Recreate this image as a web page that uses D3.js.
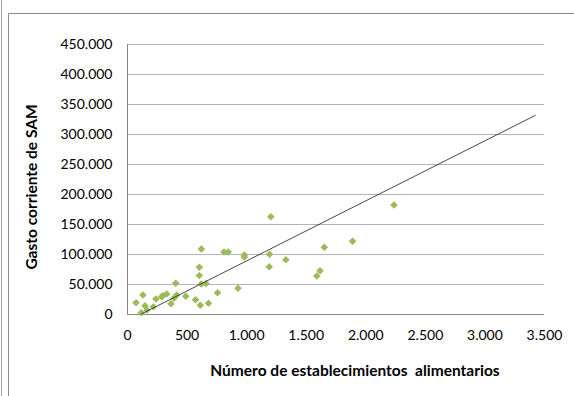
<!DOCTYPE html>
<html><head><meta charset="utf-8">
<script src="https://cdn.jsdelivr.net/npm/d3@7"></script>
<style>html,body{margin:0;padding:0;background:#fff;}svg{display:block;}</style>
</head><body>
<svg id="c" width="574" height="396"></svg>
<script>
const establecimientos = [76,134,151,120,168,221,243,291,302,333,369,394,409,417,493,575,607,607,624,624,615,663,684,760,814,850,932,985,985,1207,1196,1194,1333,1593,1620,1656,1893,2241];
const gastoSAM = [18800,31700,13800,2200,6700,12200,25000,28800,30500,33300,17200,26200,51200,31700,29500,23800,77800,64200,108300,50000,14500,50800,17800,35300,103300,103300,42800,98300,95000,162000,99500,78800,90500,63300,72000,111200,121300,181700];
const xTicks = [0,500,1000,1500,2000,2500,3000,3500];
const yTicks = [0,50000,100000,150000,200000,250000,300000,350000,400000,450000];
const trendSlope = 100.1, trendIntercept = -12000, trendRange = [120, 3430];
const xTitle = "Número de establecimientos  alimentarios";
const yTitle = "Gasto corriente de SAM";

const svg = d3.select("#c");
const font = "Lato, 'Liberation Sans', sans-serif";
const L = 127, R = 544, T = 44, B = 314;
const x = d3.scaleLinear().domain([0,3500]).range([L,R]);
const y = d3.scaleLinear().domain([0,450000]).range([B,T]);
const fmt = v => d3.format(",")(v).replace(/,/g,".");

// outer frame
svg.append("line").attr("x1",1.5).attr("x2",1.5).attr("y1",0).attr("y2",396).attr("stroke","#a0a0a0");
svg.append("path").attr("d","M8.5,396V13.5H574").attr("fill","none").attr("stroke","#8c8c8c");

// gridlines
svg.append("g").selectAll("line").data(yTicks.filter(d=>d>0)).join("line")
  .attr("x1",L).attr("x2",R).attr("y1",d=>Math.round(y(d))+0.5).attr("y2",d=>Math.round(y(d))+0.5)
  .attr("stroke","#b4b4b4").attr("stroke-width",1);

// axes
const yAxis = svg.append("g").attr("transform",`translate(${L+0.5},0)`)
  .call(d3.axisLeft(y).tickValues(yTicks).tickFormat(fmt).tickSize(0).tickPadding(15));
const xAxis = svg.append("g").attr("transform",`translate(0,${B+0.5})`)
  .call(d3.axisBottom(x).tickValues(xTicks).tickFormat(fmt).tickSize(0).tickPadding(16));
[yAxis,xAxis].forEach(g=>{
  g.select(".domain").attr("stroke","#868686");
  g.selectAll("text").attr("font-family",font).attr("font-size",14).attr("fill","#000");
});
xAxis.select(".domain").attr("d",`M${L},0H${R}`);
yAxis.select(".domain").attr("d",`M0,${B}V${T}`);

// points
const s = 3.8;
const diamond = `M0,${-s}L${s},0L0,${s}L${-s},0Z`;
svg.append("g").selectAll("path").data(establecimientos.map((d,i)=>[d,gastoSAM[i]])).join("path")
  .attr("d",diamond).attr("transform",d=>`translate(${x(d[0])},${y(d[1])})`)
  .attr("fill","#9bbb59");

// trendline
svg.append("line")
  .attr("x1",x(trendRange[0])).attr("y1",y(trendSlope*trendRange[0]+trendIntercept))
  .attr("x2",x(trendRange[1])).attr("y2",y(trendSlope*trendRange[1]+trendIntercept))
  .attr("stroke","#333").attr("stroke-width",0.9);

// titles
svg.append("text").attr("x",355).attr("y",376).attr("text-anchor","middle")
  .attr("font-family",font).attr("font-weight","bold").attr("font-size",15.5).attr("xml:space","preserve")
  .style("white-space","pre").text(xTitle);
svg.append("text").attr("transform","translate(37,187) rotate(-90)").attr("text-anchor","middle")
  .attr("font-family",font).attr("font-weight","bold").attr("font-size",15.5).text(yTitle);
</script>
</body></html>
